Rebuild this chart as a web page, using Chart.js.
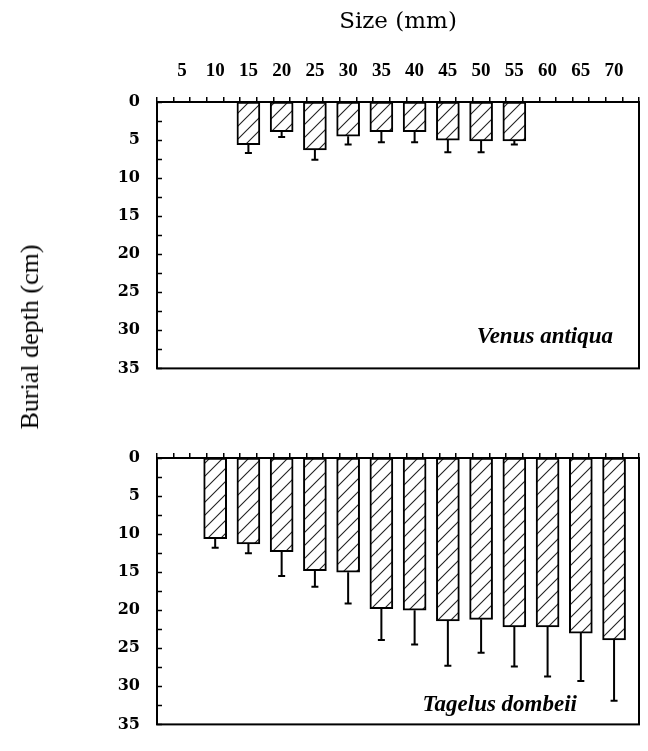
<!DOCTYPE html>
<html>
<head>
<meta charset="utf-8">
<script src="https://cdn.jsdelivr.net/npm/chart.js@4/dist/chart.umd.min.js"></script>
<style>
  body { margin: 0; background: #fff; }
  #wrap { position: relative; width: 648px; height: 751px; overflow: hidden; }
  #topChart { position: absolute; left: 0; top: 0; }
  #bottomChart { position: absolute; left: 0; top: 395px; }
  #ytitle {
    position: absolute; left: 30px; top: 337px;
    transform: translate(-50%, -50%) rotate(-90deg);
    font: 26px "Liberation Serif", serif; color: #000; white-space: nowrap;
  }
</style>
</head>
<body>
<div id="wrap">
  <canvas id="topChart" width="648" height="395"></canvas>
  <canvas id="bottomChart" width="648" height="356"></canvas>
  <div id="ytitle">Burial depth (cm)</div>
</div>
<script>
// shell size classes (mm)
const sizes = [5, 10, 15, 20, 25, 30, 35, 40, 45, 50, 55, 60, 65, 70];
const depthTicks = [0, 5, 10, 15, 20, 25, 30, 35];

// Venus antiqua: mean burial depth and error (cm)
const venusDepth = [null, null, 5.6, 3.9, 6.3, 4.5, 3.9, 3.9, 5.0, 5.1, 5.1, null, null, null];
const venusErr   = [null, null, 1.1, 0.7, 1.3, 1.1, 1.4, 1.4, 1.6, 1.5, 0.5, null, null, null];

// Tagelus dombeii
const tagelusDepth = [null, 10.6, 11.3, 12.3, 14.8, 15.0, 19.8, 20.0, 21.4, 21.2, 22.2, 22.2, 23.0, 23.9];
const tagelusErr   = [null, 1.2, 1.2, 3.2, 2.1, 4.1, 4.1, 4.5, 5.9, 4.4, 5.2, 6.5, 6.3, 8.0];

function points(depth, err) {
  const out = [];
  sizes.forEach((s, i) => {
    if (depth[i] != null) out.push({ x: s, y: depth[i], err: err[i] });
  });
  return out;
}

function hatch() {
  const n = 13;
  const c = document.createElement('canvas');
  c.width = n; c.height = n;
  const g = c.getContext('2d');
  g.fillStyle = '#fff';
  g.fillRect(0, 0, n, n);
  g.strokeStyle = '#222';
  g.lineWidth = 1.1;
  g.beginPath();
  g.moveTo(-2, n + 2); g.lineTo(n + 2, -2);
  g.moveTo(-2, 2); g.lineTo(2, -2);
  g.moveTo(n - 2, n + 2); g.lineTo(n + 2, n - 2);
  g.stroke();
  return g.createPattern(c, 'repeat');
}

const errorBars = {
  id: 'errorBars',
  afterDatasetsDraw(chart) {
    const ctx = chart.ctx;
    const y = chart.scales.y;
    const meta = chart.getDatasetMeta(0);
    const data = chart.data.datasets[0].data;
    ctx.save();
    ctx.strokeStyle = '#000';
    ctx.lineWidth = 2;
    meta.data.forEach((bar, i) => {
      const d = data[i];
      const y0 = y.getPixelForValue(d.y);
      const y1 = y.getPixelForValue(d.y + d.err);
      ctx.beginPath();
      ctx.moveTo(bar.x, y0);
      ctx.lineTo(bar.x, y1);
      ctx.moveTo(bar.x - 3.5, y1);
      ctx.lineTo(bar.x + 3.5, y1);
      ctx.stroke();
    });
    ctx.restore();
  }
};

const frame = {
  id: 'frame',
  afterDraw(chart, args, opts) {
    const ctx = chart.ctx;
    const a = chart.chartArea;
    const y = chart.scales.y;
    ctx.save();
    ctx.strokeStyle = '#000';
    ctx.lineWidth = 2;
    ctx.strokeRect(a.left, a.top, a.right - a.left, a.bottom - a.top);
    // inward ticks on the depth axis
    ctx.lineWidth = 1.5;
    y.ticks.forEach(t => {
      const py = Math.round(y.getPixelForValue(t.value)) + 0.5;
      ctx.beginPath();
      ctx.moveTo(a.left, py);
      ctx.lineTo(a.left + 5, py);
      ctx.stroke();
    });
    ctx.fillStyle = '#000';
    ctx.font = 'italic bold 23px "Liberation Serif"';
    ctx.textAlign = 'right';
    ctx.textBaseline = 'alphabetic';
    ctx.fillText(opts.species, a.right - opts.dx, a.bottom - opts.dy);
    ctx.restore();
  }
};

function makeChart(id, depth, err, opts) {
  return new Chart(document.getElementById(id), {
    type: 'bar',
    data: {
      datasets: [{
        data: points(depth, err),
        backgroundColor: hatch(),
        borderColor: '#000',
        borderWidth: 2,
        borderSkipped: false,
        barThickness: 23
      }]
    },
    options: {
      responsive: false,
      animation: false,
      layout: { padding: { left: 0, right: 9, top: 0, bottom: opts.padBottom } },
      plugins: {
        legend: { display: false },
        tooltip: { enabled: false },
        frame: { species: opts.species, dx: opts.dx, dy: opts.dy }
      },
      scales: {
        x: {
          type: 'linear',
          position: 'top',
          min: 2.5,
          max: 72.5,
          ticks: {
            stepSize: 2.5,
            autoSkip: false,
            maxRotation: 0,
            padding: 15,
            color: '#000',
            font: { family: 'Liberation Serif', weight: 'bold', size: 19 },
            callback: v => (opts.showX && sizes.includes(v)) ? String(v) : ''
          },
          grid: { drawOnChartArea: false, drawTicks: true, tickLength: 5, color: '#000', lineWidth: 1.5 },
          border: { display: true, color: '#000', width: 2 },
          title: {
            display: opts.showX,
            text: 'Size (mm)',
            color: '#000',
            font: { family: 'DejaVu Serif', size: 23 },
            padding: { top: 8, bottom: 0 }
          },
          afterFit(scale) { scale.height = opts.axisTop; }
        },
        y: {
          reverse: true,
          min: 0,
          max: 35,
          ticks: {
            stepSize: 2.5,
            autoSkip: false,
            padding: 17,
            color: '#000',
            font: { family: 'DejaVu Serif', weight: 'bold', size: 16 },
            callback: v => depthTicks.includes(v) ? String(v) : ''
          },
          grid: { display: false, drawTicks: false, tickLength: 0 },
          border: { display: true, color: '#000', width: 2 },
          afterFit(scale) { scale.width = 157; }
        }
      }
    },
    plugins: [errorBars, frame]
  });
}

makeChart('topChart', venusDepth, venusErr,
  { showX: true, axisTop: 102, padBottom: 12, species: 'Venus antiqua', dx: 26, dy: 25 });
makeChart('bottomChart', tagelusDepth, tagelusErr,
  { showX: false, axisTop: 63, padBottom: 11, species: 'Tagelus dombeii', dx: 62, dy: 13 });
</script>
</body>
</html>
